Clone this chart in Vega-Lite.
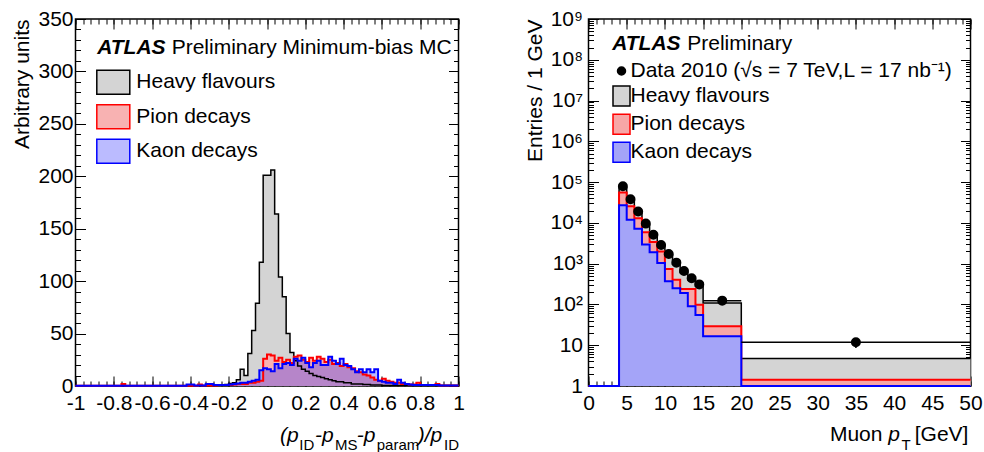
{
"$schema":"https://vega.github.io/schema/vega-lite/v6.json",
"padding":{"left":9.5,"top":7,"right":4,"bottom":0},
"bounds":"flush",
"spacing":130,
"config":{
 "font":"Liberation Sans",
 "view":{"stroke":"black","strokeWidth":1.5},
 "axis":{"grid":false,"domain":false,"tickColor":"black","tickWidth":1,"labelColor":"black","labelFont":"Liberation Sans","labelFontSize":21,"titleColor":"black","titleFont":"Liberation Sans","titleFontSize":21,"titleFontWeight":"normal","labelOverlap":false,"labelFlush":false,"labelBound":false,"zindex":1},
 "legend":{"labelFont":"Liberation Sans","labelFontSize":21,"labelColor":"black","labelLimit":600,"padding":0,"symbolStrokeWidth":1.5,"titlePadding":0},
 "text":{"font":"Liberation Sans","color":"black"}
},
"datasets":{
 "pid":[
  {"s":"H","lo":-1,"hi":-0.3,"v":0.3},{"s":"H","lo":-0.3,"hi":-0.28,"v":0.5},{"s":"H","lo":-0.28,"hi":-0.26,"v":0.5},{"s":"H","lo":-0.26,"hi":-0.24,"v":1},{"s":"H","lo":-0.24,"hi":-0.22,"v":1},{"s":"H","lo":-0.22,"hi":-0.2,"v":1.5},{"s":"H","lo":-0.2,"hi":-0.18,"v":2.5},{"s":"H","lo":-0.18,"hi":-0.16,"v":3},{"s":"H","lo":-0.16,"hi":-0.14,"v":6},{"s":"H","lo":-0.14,"hi":-0.12,"v":16},{"s":"H","lo":-0.12,"hi":-0.1,"v":10},{"s":"H","lo":-0.1,"hi":-0.08,"v":31},{"s":"H","lo":-0.08,"hi":-0.06,"v":53},{"s":"H","lo":-0.06,"hi":-0.04,"v":79},{"s":"H","lo":-0.04,"hi":-0.02,"v":118},{"s":"H","lo":-0.02,"hi":0,"v":201},{"s":"H","lo":0,"hi":0.02,"v":201},{"s":"H","lo":0.02,"hi":0.04,"v":206},{"s":"H","lo":0.04,"hi":0.06,"v":164},{"s":"H","lo":0.06,"hi":0.08,"v":104},{"s":"H","lo":0.08,"hi":0.1,"v":85},{"s":"H","lo":0.1,"hi":0.12,"v":50},{"s":"H","lo":0.12,"hi":0.14,"v":32},{"s":"H","lo":0.14,"hi":0.16,"v":24},{"s":"H","lo":0.16,"hi":0.18,"v":19},{"s":"H","lo":0.18,"hi":0.2,"v":16},{"s":"H","lo":0.2,"hi":0.22,"v":14},{"s":"H","lo":0.22,"hi":0.24,"v":12},{"s":"H","lo":0.24,"hi":0.26,"v":10},{"s":"H","lo":0.26,"hi":0.28,"v":9},{"s":"H","lo":0.28,"hi":0.3,"v":8},{"s":"H","lo":0.3,"hi":0.32,"v":7},{"s":"H","lo":0.32,"hi":0.34,"v":6},{"s":"H","lo":0.34,"hi":0.36,"v":5},{"s":"H","lo":0.36,"hi":0.4,"v":4},{"s":"H","lo":0.4,"hi":0.44,"v":3},{"s":"H","lo":0.44,"hi":0.5,"v":2},{"s":"H","lo":0.5,"hi":0.54,"v":1.5},{"s":"H","lo":0.54,"hi":0.6,"v":1},{"s":"H","lo":0.6,"hi":1,"v":0.4},
  {"s":"P","lo":-1,"hi":-0.76,"v":0.3},{"s":"P","lo":-0.76,"hi":-0.74,"v":2},{"s":"P","lo":-0.74,"hi":-0.36,"v":0.3},{"s":"P","lo":-0.36,"hi":-0.34,"v":1.5},{"s":"P","lo":-0.34,"hi":-0.3,"v":0.5},{"s":"P","lo":-0.3,"hi":-0.28,"v":0.5},{"s":"P","lo":-0.28,"hi":-0.26,"v":0.5},{"s":"P","lo":-0.26,"hi":-0.24,"v":1},{"s":"P","lo":-0.24,"hi":-0.22,"v":1},{"s":"P","lo":-0.22,"hi":-0.2,"v":1},{"s":"P","lo":-0.2,"hi":-0.18,"v":1},{"s":"P","lo":-0.18,"hi":-0.16,"v":1.5},{"s":"P","lo":-0.16,"hi":-0.14,"v":2},{"s":"P","lo":-0.14,"hi":-0.12,"v":2},{"s":"P","lo":-0.12,"hi":-0.1,"v":2},{"s":"P","lo":-0.1,"hi":-0.08,"v":3},{"s":"P","lo":-0.08,"hi":-0.06,"v":3},{"s":"P","lo":-0.06,"hi":-0.04,"v":4},{"s":"P","lo":-0.04,"hi":-0.02,"v":5},{"s":"P","lo":-0.02,"hi":0,"v":26},{"s":"P","lo":0,"hi":0.02,"v":30},{"s":"P","lo":0.02,"hi":0.04,"v":29},{"s":"P","lo":0.04,"hi":0.06,"v":24},{"s":"P","lo":0.06,"hi":0.08,"v":27},{"s":"P","lo":0.08,"hi":0.1,"v":23},{"s":"P","lo":0.1,"hi":0.12,"v":25},{"s":"P","lo":0.12,"hi":0.14,"v":22},{"s":"P","lo":0.14,"hi":0.16,"v":28},{"s":"P","lo":0.16,"hi":0.18,"v":29},{"s":"P","lo":0.18,"hi":0.2,"v":25},{"s":"P","lo":0.2,"hi":0.22,"v":23},{"s":"P","lo":0.22,"hi":0.24,"v":27},{"s":"P","lo":0.24,"hi":0.26,"v":24},{"s":"P","lo":0.26,"hi":0.28,"v":28},{"s":"P","lo":0.28,"hi":0.3,"v":26},{"s":"P","lo":0.3,"hi":0.32,"v":23},{"s":"P","lo":0.32,"hi":0.34,"v":25},{"s":"P","lo":0.34,"hi":0.36,"v":21},{"s":"P","lo":0.36,"hi":0.38,"v":22},{"s":"P","lo":0.38,"hi":0.4,"v":19},{"s":"P","lo":0.4,"hi":0.42,"v":21},{"s":"P","lo":0.42,"hi":0.44,"v":18},{"s":"P","lo":0.44,"hi":0.46,"v":17},{"s":"P","lo":0.46,"hi":0.48,"v":14},{"s":"P","lo":0.48,"hi":0.5,"v":13},{"s":"P","lo":0.5,"hi":0.52,"v":11},{"s":"P","lo":0.52,"hi":0.54,"v":10},{"s":"P","lo":0.54,"hi":0.56,"v":8},{"s":"P","lo":0.56,"hi":0.58,"v":6},{"s":"P","lo":0.58,"hi":0.6,"v":5},{"s":"P","lo":0.6,"hi":0.62,"v":7},{"s":"P","lo":0.62,"hi":0.64,"v":5},{"s":"P","lo":0.64,"hi":0.66,"v":4},{"s":"P","lo":0.66,"hi":0.68,"v":3},{"s":"P","lo":0.68,"hi":0.7,"v":3},{"s":"P","lo":0.7,"hi":0.72,"v":2},{"s":"P","lo":0.72,"hi":0.74,"v":2},{"s":"P","lo":0.74,"hi":0.78,"v":1.5},{"s":"P","lo":0.78,"hi":0.8,"v":3},{"s":"P","lo":0.8,"hi":0.88,"v":1},{"s":"P","lo":0.88,"hi":0.9,"v":2},{"s":"P","lo":0.9,"hi":1,"v":0.5},
  {"s":"K","lo":-1,"hi":-0.42,"v":0.3},{"s":"K","lo":-0.42,"hi":-0.38,"v":1.5},{"s":"K","lo":-0.38,"hi":-0.32,"v":0.5},{"s":"K","lo":-0.32,"hi":-0.3,"v":2},{"s":"K","lo":-0.3,"hi":-0.28,"v":2},{"s":"K","lo":-0.28,"hi":-0.2,"v":1},{"s":"K","lo":-0.2,"hi":-0.18,"v":1.5},{"s":"K","lo":-0.18,"hi":-0.16,"v":2},{"s":"K","lo":-0.16,"hi":-0.14,"v":2.5},{"s":"K","lo":-0.14,"hi":-0.12,"v":3},{"s":"K","lo":-0.12,"hi":-0.1,"v":3},{"s":"K","lo":-0.1,"hi":-0.08,"v":4},{"s":"K","lo":-0.08,"hi":-0.06,"v":5},{"s":"K","lo":-0.06,"hi":-0.04,"v":6},{"s":"K","lo":-0.04,"hi":-0.02,"v":15},{"s":"K","lo":-0.02,"hi":0,"v":17},{"s":"K","lo":0,"hi":0.02,"v":16},{"s":"K","lo":0.02,"hi":0.04,"v":14},{"s":"K","lo":0.04,"hi":0.06,"v":21},{"s":"K","lo":0.06,"hi":0.08,"v":17},{"s":"K","lo":0.08,"hi":0.1,"v":21},{"s":"K","lo":0.1,"hi":0.12,"v":22},{"s":"K","lo":0.12,"hi":0.14,"v":20},{"s":"K","lo":0.14,"hi":0.16,"v":26},{"s":"K","lo":0.16,"hi":0.18,"v":24},{"s":"K","lo":0.18,"hi":0.2,"v":27},{"s":"K","lo":0.2,"hi":0.22,"v":22},{"s":"K","lo":0.22,"hi":0.24,"v":18},{"s":"K","lo":0.24,"hi":0.26,"v":22},{"s":"K","lo":0.26,"hi":0.28,"v":24},{"s":"K","lo":0.28,"hi":0.3,"v":20},{"s":"K","lo":0.3,"hi":0.32,"v":20},{"s":"K","lo":0.32,"hi":0.34,"v":28},{"s":"K","lo":0.34,"hi":0.36,"v":24},{"s":"K","lo":0.36,"hi":0.38,"v":21},{"s":"K","lo":0.38,"hi":0.4,"v":26},{"s":"K","lo":0.4,"hi":0.42,"v":20},{"s":"K","lo":0.42,"hi":0.44,"v":19},{"s":"K","lo":0.44,"hi":0.46,"v":16},{"s":"K","lo":0.46,"hi":0.48,"v":13},{"s":"K","lo":0.48,"hi":0.5,"v":16},{"s":"K","lo":0.5,"hi":0.52,"v":13},{"s":"K","lo":0.52,"hi":0.54,"v":16},{"s":"K","lo":0.54,"hi":0.56,"v":13},{"s":"K","lo":0.56,"hi":0.58,"v":16},{"s":"K","lo":0.58,"hi":0.6,"v":5},{"s":"K","lo":0.6,"hi":0.62,"v":4},{"s":"K","lo":0.62,"hi":0.66,"v":3},{"s":"K","lo":0.66,"hi":0.68,"v":2},{"s":"K","lo":0.68,"hi":0.7,"v":6},{"s":"K","lo":0.7,"hi":0.72,"v":3},{"s":"K","lo":0.72,"hi":0.74,"v":2},{"s":"K","lo":0.74,"hi":0.76,"v":1.5},{"s":"K","lo":0.76,"hi":0.9,"v":1},{"s":"K","lo":0.9,"hi":1,"v":0.5}
 ],
 "pt":[
  {"s":"H","lo":0,"hi":4,"v":1},{"s":"H","lo":4,"hi":5,"v":73000},{"s":"H","lo":5,"hi":6,"v":35500},{"s":"H","lo":6,"hi":7,"v":17500},{"s":"H","lo":7,"hi":8,"v":9000},{"s":"H","lo":8,"hi":9,"v":4750},{"s":"H","lo":9,"hi":10,"v":2700},{"s":"H","lo":10,"hi":11,"v":1600},{"s":"H","lo":11,"hi":12,"v":980},{"s":"H","lo":12,"hi":13,"v":610},{"s":"H","lo":13,"hi":14,"v":405},{"s":"H","lo":14,"hi":15,"v":285},{"s":"H","lo":15,"hi":20,"v":108},{"s":"H","lo":20,"hi":50,"v":4.7},
  {"s":"P","lo":0,"hi":4,"v":1},{"s":"P","lo":4,"hi":5,"v":56000},{"s":"P","lo":5,"hi":6,"v":25500},{"s":"P","lo":6,"hi":7,"v":13000},{"s":"P","lo":7,"hi":8,"v":5900},{"s":"P","lo":8,"hi":9,"v":3400},{"s":"P","lo":9,"hi":10,"v":2000},{"s":"P","lo":10,"hi":11,"v":740},{"s":"P","lo":11,"hi":12,"v":405},{"s":"P","lo":12,"hi":13,"v":240},{"s":"P","lo":13,"hi":14,"v":240},{"s":"P","lo":14,"hi":15,"v":98},{"s":"P","lo":15,"hi":20,"v":29},{"s":"P","lo":20,"hi":50,"v":1.42},
  {"s":"K","lo":0,"hi":4,"v":1},{"s":"K","lo":4,"hi":5,"v":27000},{"s":"K","lo":5,"hi":6,"v":12000},{"s":"K","lo":6,"hi":7,"v":7200},{"s":"K","lo":7,"hi":8,"v":2960},{"s":"K","lo":8,"hi":9,"v":1900},{"s":"K","lo":9,"hi":10,"v":1040},{"s":"K","lo":10,"hi":11,"v":370},{"s":"K","lo":11,"hi":12,"v":250},{"s":"K","lo":12,"hi":13,"v":190},{"s":"K","lo":13,"hi":14,"v":90},{"s":"K","lo":14,"hi":15,"v":55},{"s":"K","lo":15,"hi":20,"v":16.5},{"s":"K","lo":20,"hi":50,"v":1}
 ],
 "dots":[
  {"s":"D","c":4.5,"lo":4,"hi":5,"v":79000},{"s":"D","c":5.5,"lo":5,"hi":6,"v":38000},{"s":"D","c":6.5,"lo":6,"hi":7,"v":19000},{"s":"D","c":7.5,"lo":7,"hi":8,"v":9600},{"s":"D","c":8.5,"lo":8,"hi":9,"v":5100},{"s":"D","c":9.5,"lo":9,"hi":10,"v":2870},{"s":"D","c":10.5,"lo":10,"hi":11,"v":1730},{"s":"D","c":11.5,"lo":11,"hi":12,"v":1060},{"s":"D","c":12.5,"lo":12,"hi":13,"v":660},{"s":"D","c":13.5,"lo":13,"hi":14,"v":440},{"s":"D","c":14.5,"lo":14,"hi":15,"v":310},{"s":"D","c":17.5,"lo":15,"hi":20,"v":124},{"s":"D","c":35,"lo":20,"hi":50,"v":11.8,"elo":8.6,"ehi":15}
 ]
},
"resolve":{"scale":{"fill":"independent","stroke":"independent","shape":"independent"},"legend":{"fill":"independent","stroke":"independent","shape":"independent"}},
"hconcat":[
 {
  "width":383,"height":367,
  "resolve":{"axis":{"x":"independent","y":"independent"}},
  "layer":[
   {"data":{"name":"pid"},
    "transform":[{"filter":"datum.s == 'H'"},{"fold":["lo","hi"],"as":["edge","xv"]}],
    "mark":{"type":"area","strokeWidth":0},
    "encoding":{
     "x":{"field":"xv","type":"quantitative","scale":{"domain":[-1,1],"nice":false,"zero":false},
      "axis":{"orient":"bottom","values":[-1,-0.8,-0.6,-0.4,-0.2,0,0.2,0.4,0.6,0.8,1],"tickSize":-10,"labelPadding":16,"title":null,"labelExpr":"datum.value < 0 ? '-' + format(-datum.value, '~g') : format(datum.value, '~g')"}},
     "y":{"field":"v","type":"quantitative","scale":{"domain":[0,350],"nice":false},
      "axis":{"orient":"left","values":[0,50,100,150,200,250,300,350],"tickSize":-10,"labelPadding":12.5,"title":"Arbitrary units","titleAngle":270,"titleAlign":"right","titleBaseline":"alphabetic","titleX":-47.5,"titleY":0}},
     "y2":{"datum":0},
     "order":[{"field":"lo","type":"quantitative"},{"field":"edge","type":"nominal","sort":"descending"}],
     "fill":{"field":"s","type":"nominal","scale":{"domain":["H","P","K"],"range":["#d4d4d4","#f8b2b2","rgba(30,30,255,0.3)"]},
      "legend":{"title":null,"orient":"none","legendX":20.3,"legendY":45.8,"symbolType":"M-1,-0.727L1,-0.727L1,0.727L-1,0.727Z","symbolSize":1089,"labelOffset":5.5,"rowPadding":1.5,"labelExpr":"{'H':'Heavy flavours','P':'Pion decays','K':'Kaon decays'}[datum.label]"}}
    }},
   {"data":{"name":"pid"},
    "transform":[{"filter":"datum.s == 'P'"},{"fold":["lo","hi"],"as":["edge","xv"]}],
    "mark":{"type":"area","strokeWidth":0},
    "encoding":{
     "x":{"field":"xv","type":"quantitative","axis":{"orient":"top","values":[-1,-0.8,-0.6,-0.4,-0.2,0,0.2,0.4,0.6,0.8,1],"tickSize":-10,"labels":false,"title":null}},
     "y":{"field":"v","type":"quantitative","axis":{"orient":"right","values":[0,50,100,150,200,250,300,350],"tickSize":-10,"labels":false,"title":null}},
     "y2":{"datum":0},
     "order":[{"field":"lo","type":"quantitative"},{"field":"edge","type":"nominal","sort":"descending"}],
     "fill":{"field":"s","type":"nominal","legend":{"title":null,"orient":"none","legendX":20.3,"legendY":45.8,"symbolType":"M-1,-0.727L1,-0.727L1,0.727L-1,0.727Z","symbolSize":1089,"labelOffset":5.5,"rowPadding":1.5,"labelExpr":"{'H':'Heavy flavours','P':'Pion decays','K':'Kaon decays'}[datum.label]"}}
    }},
   {"data":{"name":"pid"},
    "transform":[{"filter":"datum.s == 'K'"},{"fold":["lo","hi"],"as":["edge","xv"]}],
    "mark":{"type":"area","strokeWidth":0},
    "encoding":{
     "x":{"field":"xv","type":"quantitative","axis":{"orient":"bottom","values":[-1,-0.96,-0.92,-0.88,-0.84,-0.8,-0.76,-0.72,-0.68,-0.64,-0.6,-0.56,-0.52,-0.48,-0.44,-0.4,-0.36,-0.32,-0.28,-0.24,-0.2,-0.16,-0.12,-0.08,-0.04,0,0.04,0.08,0.12,0.16,0.2,0.24,0.28,0.32,0.36,0.4,0.44,0.48,0.52,0.56,0.6,0.64,0.68,0.72,0.76,0.8,0.84,0.88,0.92,0.96,1],"tickSize":-5,"labels":false,"title":null}},
     "y":{"field":"v","type":"quantitative","axis":{"orient":"left","values":[0,10,20,30,40,50,60,70,80,90,100,110,120,130,140,150,160,170,180,190,200,210,220,230,240,250,260,270,280,290,300,310,320,330,340,350],"tickSize":-5,"labels":false,"title":null}},
     "y2":{"datum":0},
     "order":[{"field":"lo","type":"quantitative"},{"field":"edge","type":"nominal","sort":"descending"}],
     "fill":{"field":"s","type":"nominal","legend":{"title":null,"orient":"none","legendX":20.3,"legendY":45.8,"symbolType":"M-1,-0.727L1,-0.727L1,0.727L-1,0.727Z","symbolSize":1089,"labelOffset":5.5,"rowPadding":1.5,"labelExpr":"{'H':'Heavy flavours','P':'Pion decays','K':'Kaon decays'}[datum.label]"}}
    }},
   {"data":{"name":"pid"},
    "transform":[{"filter":"datum.s == 'H'"},{"fold":["lo","hi"],"as":["edge","xv"]}],
    "mark":{"type":"line","strokeWidth":1.5,"interpolate":"linear"},
    "encoding":{
     "x":{"field":"xv","type":"quantitative","axis":{"orient":"top","values":[-1,-0.96,-0.92,-0.88,-0.84,-0.8,-0.76,-0.72,-0.68,-0.64,-0.6,-0.56,-0.52,-0.48,-0.44,-0.4,-0.36,-0.32,-0.28,-0.24,-0.2,-0.16,-0.12,-0.08,-0.04,0,0.04,0.08,0.12,0.16,0.2,0.24,0.28,0.32,0.36,0.4,0.44,0.48,0.52,0.56,0.6,0.64,0.68,0.72,0.76,0.8,0.84,0.88,0.92,0.96,1],"tickSize":-5,"labels":false,"title":null}},
     "y":{"field":"v","type":"quantitative","axis":{"orient":"right","values":[0,10,20,30,40,50,60,70,80,90,100,110,120,130,140,150,160,170,180,190,200,210,220,230,240,250,260,270,280,290,300,310,320,330,340,350],"tickSize":-5,"labels":false,"title":null}},
     "order":[{"field":"lo","type":"quantitative"},{"field":"edge","type":"nominal","sort":"descending"}],
     "stroke":{"field":"s","type":"nominal","scale":{"domain":["H","P","K"],"range":["black","#ff0000","#0000ff"]},"legend":{"title":null,"orient":"none","legendX":20.3,"legendY":45.8,"symbolType":"M-1,-0.727L1,-0.727L1,0.727L-1,0.727Z","symbolSize":1089,"labelOffset":5.5,"rowPadding":1.5,"labelExpr":"{'H':'Heavy flavours','P':'Pion decays','K':'Kaon decays'}[datum.label]"}}
    }},
   {"data":{"name":"pid"},
    "transform":[{"filter":"datum.s == 'P'"},{"fold":["lo","hi"],"as":["edge","xv"]}],
    "mark":{"type":"line","strokeWidth":2,"interpolate":"linear"},
    "encoding":{
     "x":{"field":"xv","type":"quantitative","axis":null},
     "y":{"field":"v","type":"quantitative","axis":null},
     "order":[{"field":"lo","type":"quantitative"},{"field":"edge","type":"nominal","sort":"descending"}],
     "stroke":{"field":"s","type":"nominal","legend":{"title":null,"orient":"none","legendX":20.3,"legendY":45.8,"symbolType":"M-1,-0.727L1,-0.727L1,0.727L-1,0.727Z","symbolSize":1089,"labelOffset":5.5,"rowPadding":1.5,"labelExpr":"{'H':'Heavy flavours','P':'Pion decays','K':'Kaon decays'}[datum.label]"}}
    }},
   {"data":{"name":"pid"},
    "transform":[{"filter":"datum.s == 'K'"},{"fold":["lo","hi"],"as":["edge","xv"]}],
    "mark":{"type":"line","strokeWidth":2,"interpolate":"linear"},
    "encoding":{
     "x":{"field":"xv","type":"quantitative","axis":null},
     "y":{"field":"v","type":"quantitative","axis":null},
     "order":[{"field":"lo","type":"quantitative"},{"field":"edge","type":"nominal","sort":"descending"}],
     "stroke":{"field":"s","type":"nominal","legend":{"title":null,"orient":"none","legendX":20.3,"legendY":45.8,"symbolType":"M-1,-0.727L1,-0.727L1,0.727L-1,0.727Z","symbolSize":1089,"labelOffset":5.5,"rowPadding":1.5,"labelExpr":"{'H':'Heavy flavours','P':'Pion decays','K':'Kaon decays'}[datum.label]"}}
    }},
   {"data":{"values":[{}]},"mark":{"type":"text","text":"ATLAS","fontWeight":"bold","fontStyle":"italic","fontSize":21,"align":"left","baseline":"alphabetic"},
    "encoding":{"x":{"datum":-0.887,"axis":null},"y":{"datum":317,"axis":null}}},
   {"data":{"values":[{}]},"mark":{"type":"text","text":"Preliminary Minimum-bias MC","fontSize":21,"align":"left","baseline":"alphabetic"},
    "encoding":{"x":{"datum":-0.498,"axis":null},"y":{"datum":317,"axis":null}}},
   {"data":{"values":[{}]},"mark":{"type":"text","text":"(p","fontStyle":"italic","fontSize":21,"align":"left","baseline":"alphabetic"},
    "encoding":{"x":{"datum":0.0676,"axis":null},"y":{"datum":-53.5,"axis":null}}},
   {"data":{"values":[{}]},"mark":{"type":"text","text":"ID","fontSize":15,"align":"left","baseline":"alphabetic"},
    "encoding":{"x":{"datum":0.169,"axis":null},"y":{"datum":-61.4,"axis":null}}},
   {"data":{"values":[{}]},"mark":{"type":"text","text":"-p","fontStyle":"italic","fontSize":21,"align":"left","baseline":"alphabetic"},
    "encoding":{"x":{"datum":0.2506,"axis":null},"y":{"datum":-53.5,"axis":null}}},
   {"data":{"values":[{}]},"mark":{"type":"text","text":"MS","fontSize":15,"align":"left","baseline":"alphabetic"},
    "encoding":{"x":{"datum":0.3551,"axis":null},"y":{"datum":-61.4,"axis":null}}},
   {"data":{"values":[{}]},"mark":{"type":"text","text":"-p","fontStyle":"italic","fontSize":21,"align":"left","baseline":"alphabetic"},
    "encoding":{"x":{"datum":0.4685,"axis":null},"y":{"datum":-53.5,"axis":null}}},
   {"data":{"values":[{}]},"mark":{"type":"text","text":"param","fontSize":15,"align":"left","baseline":"alphabetic"},
    "encoding":{"x":{"datum":0.573,"axis":null},"y":{"datum":-61.4,"axis":null}}},
   {"data":{"values":[{}]},"mark":{"type":"text","text":")/p","fontStyle":"italic","fontSize":21,"align":"left","baseline":"alphabetic"},
    "encoding":{"x":{"datum":0.7873,"axis":null},"y":{"datum":-53.5,"axis":null}}},
   {"data":{"values":[{}]},"mark":{"type":"text","text":"ID","fontSize":15,"align":"left","baseline":"alphabetic"},
    "encoding":{"x":{"datum":0.9248,"axis":null},"y":{"datum":-61.4,"axis":null}}}
  ]
 },
 {
  "width":382,"height":367,
  "resolve":{"axis":{"x":"independent","y":"independent"}},
  "layer":[
   {"data":{"name":"pt"},
    "transform":[{"filter":"datum.s == 'H'"},{"fold":["lo","hi"],"as":["edge","xv"]}],
    "mark":{"type":"area","strokeWidth":0},
    "encoding":{
     "x":{"field":"xv","type":"quantitative","scale":{"domain":[0,50],"nice":false,"zero":false},
      "axis":{"orient":"bottom","values":[0,5,10,15,20,25,30,35,40,45,50],"tickSize":-10,"labelPadding":16,"title":null}},
     "y":{"field":"v","type":"quantitative","scale":{"type":"log","domain":[1,1000000000],"nice":false},
      "axis":{"orient":"left","values":[1,10,100,1000,10000,100000,1000000,10000000,100000000,1000000000],"tickSize":-10,"labelPadding":16,"title":"Entries / 1 GeV","titleAngle":270,"titleAlign":"right","titleBaseline":"alphabetic","titleX":-47,"titleY":0,
       "labelExpr":"datum.value < 5 ? '1' : datum.value < 50 ? '10' : '10' + ['','','²','³','⁴','⁵','⁶','⁷','⁸','⁹'][round(log(datum.value)/LN10)]"}},
     "y2":{"datum":1},
     "order":[{"field":"lo","type":"quantitative"},{"field":"edge","type":"nominal","sort":"descending"}],
     "fill":{"field":"s","type":"nominal","scale":{"domain":["D","H","P","K"],"range":["black","#d4d4d4","#f7a6a6","#a4a4f8"]},
      "legend":{"title":null,"orient":"none","legendX":22,"legendY":41,"symbolSize":400,"labelOffset":-2,"rowPadding":2.1,"labelExpr":"{'D':'Data 2010 (√s = 7 TeV,L = 17 nb⁻¹)','H':'Heavy flavours','P':'Pion decays','K':'Kaon decays'}[datum.label]"}}
    }},
   {"data":{"name":"pt"},
    "transform":[{"filter":"datum.s == 'H'"},{"fold":["lo","hi"],"as":["edge","xv"]}],
    "mark":{"type":"line","strokeWidth":1.5},
    "encoding":{
     "x":{"field":"xv","type":"quantitative","axis":{"orient":"top","values":[0,5,10,15,20,25,30,35,40,45,50],"tickSize":-10,"labels":false,"title":null}},
     "y":{"field":"v","type":"quantitative","axis":{"orient":"right","values":[1,10,100,1000,10000,100000,1000000,10000000,100000000,1000000000],"tickSize":-10,"labels":false,"title":null}},
     "order":[{"field":"lo","type":"quantitative"},{"field":"edge","type":"nominal","sort":"descending"}],
     "stroke":{"field":"s","type":"nominal","scale":{"domain":["D","H","P","K"],"range":["black","black","#ff0000","#0000ff"]},
      "legend":{"title":null,"orient":"none","legendX":22,"legendY":41,"symbolSize":400,"labelOffset":-2,"rowPadding":2.1,"labelExpr":"{'D':'Data 2010 (√s = 7 TeV,L = 17 nb⁻¹)','H':'Heavy flavours','P':'Pion decays','K':'Kaon decays'}[datum.label]"}}
    }},
   {"data":{"name":"pt"},
    "transform":[{"filter":"datum.s == 'P'"},{"fold":["lo","hi"],"as":["edge","xv"]}],
    "mark":{"type":"area","strokeWidth":0},
    "encoding":{
     "x":{"field":"xv","type":"quantitative","axis":{"orient":"bottom","values":[0,1,2,3,4,5,6,7,8,9,10,11,12,13,14,15,16,17,18,19,20,21,22,23,24,25,26,27,28,29,30,31,32,33,34,35,36,37,38,39,40,41,42,43,44,45,46,47,48,49,50],"tickSize":-5,"labels":false,"title":null}},
     "y":{"field":"v","type":"quantitative","axis":{"orient":"left","values":[2,3,4,5,6,7,8,9,20,30,40,50,60,70,80,90,200,300,400,500,600,700,800,900,2000,3000,4000,5000,6000,7000,8000,9000,20000,30000,40000,50000,60000,70000,80000,90000,200000,300000,400000,500000,600000,700000,800000,900000,2000000,3000000,4000000,5000000,6000000,7000000,8000000,9000000,20000000,30000000,40000000,50000000,60000000,70000000,80000000,90000000,200000000,300000000,400000000,500000000,600000000,700000000,800000000,900000000],"tickSize":-5,"labels":false,"title":null}},
     "y2":{"datum":1},
     "order":[{"field":"lo","type":"quantitative"},{"field":"edge","type":"nominal","sort":"descending"}],
     "fill":{"field":"s","type":"nominal","legend":{"title":null,"orient":"none","legendX":22,"legendY":41,"symbolSize":400,"labelOffset":-2,"rowPadding":2.1,"labelExpr":"{'D':'Data 2010 (√s = 7 TeV,L = 17 nb⁻¹)','H':'Heavy flavours','P':'Pion decays','K':'Kaon decays'}[datum.label]"}}
    }},
   {"data":{"name":"pt"},
    "transform":[{"filter":"datum.s == 'P'"},{"fold":["lo","hi"],"as":["edge","xv"]}],
    "mark":{"type":"line","strokeWidth":2},
    "encoding":{
     "x":{"field":"xv","type":"quantitative","axis":{"orient":"top","values":[0,1,2,3,4,5,6,7,8,9,10,11,12,13,14,15,16,17,18,19,20,21,22,23,24,25,26,27,28,29,30,31,32,33,34,35,36,37,38,39,40,41,42,43,44,45,46,47,48,49,50],"tickSize":-5,"labels":false,"title":null}},
     "y":{"field":"v","type":"quantitative","axis":{"orient":"right","values":[2,3,4,5,6,7,8,9,20,30,40,50,60,70,80,90,200,300,400,500,600,700,800,900,2000,3000,4000,5000,6000,7000,8000,9000,20000,30000,40000,50000,60000,70000,80000,90000,200000,300000,400000,500000,600000,700000,800000,900000,2000000,3000000,4000000,5000000,6000000,7000000,8000000,9000000,20000000,30000000,40000000,50000000,60000000,70000000,80000000,90000000,200000000,300000000,400000000,500000000,600000000,700000000,800000000,900000000],"tickSize":-5,"labels":false,"title":null}},
     "order":[{"field":"lo","type":"quantitative"},{"field":"edge","type":"nominal","sort":"descending"}],
     "stroke":{"field":"s","type":"nominal","legend":{"title":null,"orient":"none","legendX":22,"legendY":41,"symbolSize":400,"labelOffset":-2,"rowPadding":2.1,"labelExpr":"{'D':'Data 2010 (√s = 7 TeV,L = 17 nb⁻¹)','H':'Heavy flavours','P':'Pion decays','K':'Kaon decays'}[datum.label]"}}
    }},
   {"data":{"name":"pt"},
    "transform":[{"filter":"datum.s == 'K'"},{"fold":["lo","hi"],"as":["edge","xv"]}],
    "mark":{"type":"area","strokeWidth":0},
    "encoding":{
     "x":{"field":"xv","type":"quantitative","axis":null},
     "y":{"field":"v","type":"quantitative","axis":null},
     "y2":{"datum":1},
     "order":[{"field":"lo","type":"quantitative"},{"field":"edge","type":"nominal","sort":"descending"}],
     "fill":{"field":"s","type":"nominal","legend":{"title":null,"orient":"none","legendX":22,"legendY":41,"symbolSize":400,"labelOffset":-2,"rowPadding":2.1,"labelExpr":"{'D':'Data 2010 (√s = 7 TeV,L = 17 nb⁻¹)','H':'Heavy flavours','P':'Pion decays','K':'Kaon decays'}[datum.label]"}}
    }},
   {"data":{"name":"pt"},
    "transform":[{"filter":"datum.s == 'K'"},{"fold":["lo","hi"],"as":["edge","xv"]}],
    "mark":{"type":"line","strokeWidth":2},
    "encoding":{
     "x":{"field":"xv","type":"quantitative","axis":null},
     "y":{"field":"v","type":"quantitative","axis":null},
     "order":[{"field":"lo","type":"quantitative"},{"field":"edge","type":"nominal","sort":"descending"}],
     "stroke":{"field":"s","type":"nominal","legend":{"title":null,"orient":"none","legendX":22,"legendY":41,"symbolSize":400,"labelOffset":-2,"rowPadding":2.1,"labelExpr":"{'D':'Data 2010 (√s = 7 TeV,L = 17 nb⁻¹)','H':'Heavy flavours','P':'Pion decays','K':'Kaon decays'}[datum.label]"}}
    }},
   {"data":{"name":"dots"},
    "mark":{"type":"rule","strokeWidth":1.5,"color":"black"},
    "encoding":{"x":{"field":"lo","type":"quantitative","axis":null},"x2":{"field":"hi"},"y":{"field":"v","type":"quantitative","axis":null}}},
   {"data":{"name":"dots"},
    "transform":[{"filter":"isValid(datum.elo)"}],
    "mark":{"type":"rule","strokeWidth":1.5,"color":"black"},
    "encoding":{"x":{"field":"c","type":"quantitative","axis":null},"y":{"field":"elo","type":"quantitative","axis":null},"y2":{"field":"ehi"}}},
   {"data":{"name":"dots"},
    "mark":{"type":"point","filled":true,"size":400,"opacity":1},
    "encoding":{
     "x":{"field":"c","type":"quantitative","axis":null},
     "y":{"field":"v","type":"quantitative","axis":null},
     "fill":{"field":"s","type":"nominal","legend":{"title":null,"orient":"none","legendX":22,"legendY":41,"symbolSize":400,"labelOffset":-2,"rowPadding":2.1,"labelExpr":"{'D':'Data 2010 (√s = 7 TeV,L = 17 nb⁻¹)','H':'Heavy flavours','P':'Pion decays','K':'Kaon decays'}[datum.label]"}},
     "stroke":{"field":"s","type":"nominal","legend":{"title":null,"orient":"none","legendX":22,"legendY":41,"symbolSize":400,"labelOffset":-2,"rowPadding":2.1,"labelExpr":"{'D':'Data 2010 (√s = 7 TeV,L = 17 nb⁻¹)','H':'Heavy flavours','P':'Pion decays','K':'Kaon decays'}[datum.label]"}},
     "shape":{"field":"s","type":"nominal","scale":{"domain":["D","H","P","K"],"range":["M0.4,0A0.4,0.4,0,1,1,-0.4,0A0.4,0.4,0,1,1,0.4,0Z","M-0.85,-1L0.85,-1L0.85,1L-0.85,1Z","M-0.85,-1L0.85,-1L0.85,1L-0.85,1Z","M-0.85,-1L0.85,-1L0.85,1L-0.85,1Z"]},
      "legend":{"title":null,"orient":"none","legendX":22,"legendY":41,"symbolSize":400,"labelOffset":-2,"rowPadding":2.1,"labelExpr":"{'D':'Data 2010 (√s = 7 TeV,L = 17 nb⁻¹)','H':'Heavy flavours','P':'Pion decays','K':'Kaon decays'}[datum.label]"}}
    }},
   {"data":{"values":[{}]},"mark":{"type":"text","text":"ATLAS","fontWeight":"bold","fontStyle":"italic","fontSize":21,"align":"left","baseline":"alphabetic"},
    "encoding":{"x":{"datum":3.1,"axis":null},"y":{"datum":176600000,"axis":null}}},
   {"data":{"values":[{}]},"mark":{"type":"text","text":"Preliminary","fontSize":21,"align":"left","baseline":"alphabetic"},
    "encoding":{"x":{"datum":12.92,"axis":null},"y":{"datum":176600000,"axis":null}}},
   {"data":{"values":[{}]},"mark":{"type":"text","text":"Muon","fontSize":21,"align":"left","baseline":"alphabetic"},
    "encoding":{"x":{"datum":31.6,"axis":null},"y":{"datum":0.0456,"axis":null}}},
   {"data":{"values":[{}]},"mark":{"type":"text","text":"p","fontStyle":"italic","fontSize":21,"align":"left","baseline":"alphabetic"},
    "encoding":{"x":{"datum":39.23,"axis":null},"y":{"datum":0.0456,"axis":null}}},
   {"data":{"values":[{}]},"mark":{"type":"text","text":"T","fontSize":15,"align":"left","baseline":"alphabetic"},
    "encoding":{"x":{"datum":40.97,"axis":null},"y":{"datum":0.027,"axis":null}}},
   {"data":{"values":[{}]},"mark":{"type":"text","text":"[GeV]","fontSize":21,"align":"left","baseline":"alphabetic"},
    "encoding":{"x":{"datum":42.7,"axis":null},"y":{"datum":0.0456,"axis":null}}}
  ]
 }
]
}
